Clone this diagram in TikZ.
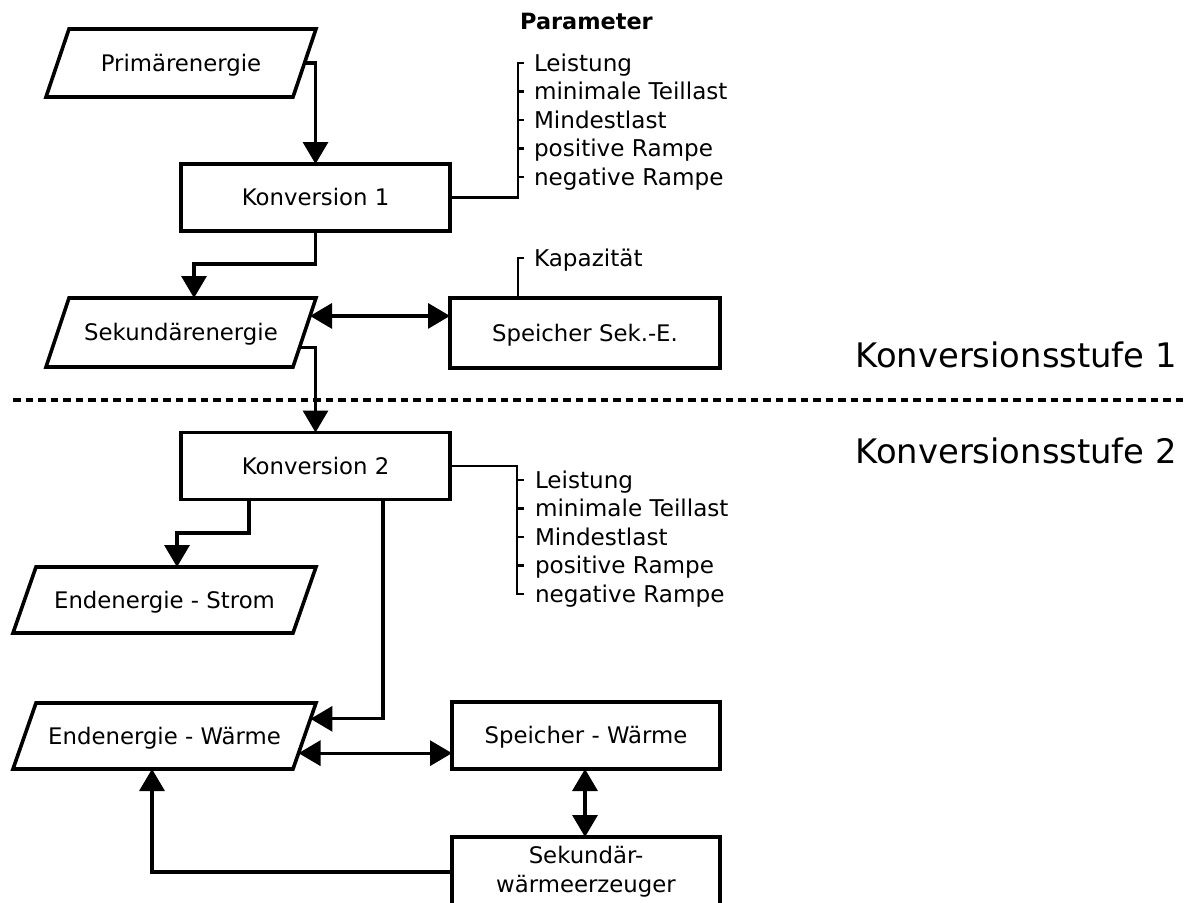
\documentclass[tikz,border=0pt]{standalone}
\usepackage{fontspec}
\setmainfont{DejaVu Sans}
\newfontfamily\headfont{DejaVu Sans}[UprightFont=*-Bold]
\usetikzlibrary{arrows.meta,calc}

\begin{document}
\begin{tikzpicture}[x=1pt,y=-1pt,
  boxline/.style={line width=3.6pt},
  boxfont/.style={font=\fontsize{22.8}{29}\selectfont},
  rectbox/.style={draw, boxline, boxfont, rectangle, inner sep=0pt, outer sep=0pt,
    text height=16.6pt, text depth=0pt},
  slantbox/.style={boxfont, rectangle, inner sep=0pt, outer sep=0pt,
    text height=16.6pt, text depth=0pt},
  flow/.style={line width=3.3pt, -{Triangle[length=22pt,width=25pt]}},
  flowboth/.style={line width=3.3pt,
    {Triangle[length=22pt,width=25pt]}-{Triangle[length=22pt,width=25pt]}},
  bracket/.style={line width=2.3pt},
  param/.style={anchor=west, inner sep=0pt, outer sep=0pt, text height=16pt,
    text depth=0pt, font=\fontsize{23.1}{28}\selectfont},
  stage/.style={anchor=base east, inner sep=0pt, font=\fontsize{33.8}{40}\selectfont},
  head/.style={anchor=base west, inner sep=0pt, font=\headfont\fontsize{22.4}{26}\selectfont},
]
\clip (0,0) rectangle (1191,902);
\fill[white] (0,0) rectangle (1191,902);

% --- stage 1 ---
\node[slantbox, minimum width=270pt, minimum height=68pt] (pe) at (181,63) {Primärenergie};
\node[rectbox, minimum width=269pt, minimum height=67pt] (k1) at (315.5,197.5) {Konversion 1};
\node[slantbox, minimum width=270pt, minimum height=69pt] (se) at (181,332.5) {Sekundärenergie};
\node[rectbox, minimum width=270pt, minimum height=70pt] (sp1) at (585,333) {Speicher Sek.-E.};

% --- stage 2 ---
\node[rectbox, minimum width=269pt, minimum height=67pt] (k2) at (315.5,466) {Konversion 2};
\node[slantbox, minimum width=303pt, minimum height=66pt] (es) at (164.5,600) {Endenergie - Strom};
\node[slantbox, minimum width=303pt, minimum height=66pt] (ew) at (164.5,736) {Endenergie - Wärme};
\node[rectbox, minimum width=268pt, minimum height=67pt] (sw) at (586,735.5) {Speicher - Wärme};
\node[draw, boxline, boxfont, inner sep=0pt, outer sep=0pt, align=center,
  minimum width=268pt, minimum height=70pt] (swe) at (586,872) {Sekundär-\\wärmeerzeuger};

% parallelogram outlines of the energy nodes
\foreach \n in {pe,se,es,ew}
  \draw[boxline] ([xshift=23pt]\n.north west) -- (\n.north east)
    -- ([xshift=-23pt]\n.south east) -- (\n.south west) -- cycle;

% stage separator
\draw[line width=4pt, dash pattern=on 7.5pt off 5pt] (13,400) -- (1185,400);
\node[stage] (st1) at (1177,367) {Konversionsstufe 1};
\node[stage] (st2) at (1177,463) {Konversionsstufe 2};

% energy flows
\draw[flow] ($(pe.north east)!0.5!([xshift=-23pt]pe.south east)$) -| (k1.north);
\draw[flow] (k1.south) -- ++(0,33) -| ([xshift=13pt]se.north);
\coordinate (se1) at ($(se.north east)!0.26!([xshift=-23pt]se.south east)$);
\draw[flowboth] (se1) -- (se1 -| sp1.west);
\draw[flow] ($(se.north east)!0.72!([xshift=-23pt]se.south east)$) -| (k2.north);
\draw[flow] ([xshift=-66.5pt]k2.south) -- ++(0,33.5) -| ([xshift=12.5pt]es.north);
\coordinate (ew1) at ($(ew.north east)!0.24!([xshift=-23pt]ew.south east)$);
\draw[flow] ([xshift=67.5pt]k2.south) |- (ew1);
\coordinate (ew2) at ($(ew.north east)!0.76!([xshift=-23pt]ew.south east)$);
\draw[flowboth] (ew2) -- (ew2 -| sw.west);
\draw[flowboth] ([xshift=-1pt]sw.south) -- ([xshift=-1pt]swe.north);
\draw[flow] (swe.west) -| ([xshift=-12.5pt]ew.south);

% parameters
\node[head] (ph) at (520,29) {Parameter};

\node[param] (a1) at (534,63) {Leistung};
\node[param] (a2) at (534,91.5) {minimale Teillast};
\node[param] (a3) at (534,120) {Mindestlast};
\node[param] (a4) at (534,148.5) {positive Rampe};
\node[param] (a5) at (534,177) {negative Rampe};
\draw[bracket] (k1.east) -| ([xshift=-16pt]a1.west) -- ([xshift=-10pt]a1.west);
\foreach \i in {2,...,5}
  \draw[bracket] ([xshift=-16pt]a\i.west) -- ([xshift=-10pt]a\i.west);

\node[param] (kap) at (534,258) {Kapazität};
\draw[bracket] ([xshift=68pt]sp1.north west) |- ([xshift=-10pt]kap.west);

\node[param] (b1) at (535,480) {Leistung};
\node[param] (b2) at (535,508.5) {minimale Teillast};
\node[param] (b3) at (535,537) {Mindestlast};
\node[param] (b4) at (535,565.5) {positive Rampe};
\node[param] (b5) at (535,594) {negative Rampe};
\draw[bracket] (k2.east) -| ([xshift=-18pt]b5.west) -- ([xshift=-11pt]b5.west);
\foreach \i in {1,...,4}
  \draw[bracket] ([xshift=-18pt]b\i.west) -- ([xshift=-11pt]b\i.west);
\end{tikzpicture}
\end{document}
